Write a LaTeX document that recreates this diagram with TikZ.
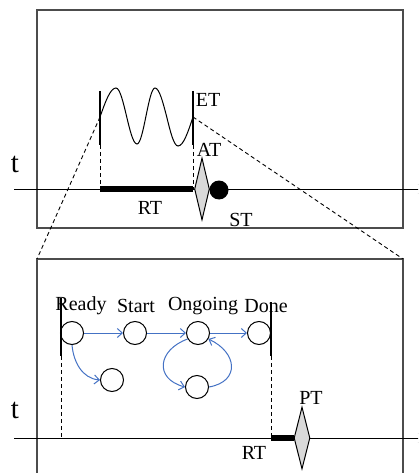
\documentclass[tikz,border=0pt]{standalone}
\usepackage{fontspec}
\setmainfont{Liberation Serif}
\usetikzlibrary{shapes.geometric,arrows.meta}
\definecolor{flowblue}{RGB}{68,114,196}
\begin{document}
\begin{tikzpicture}[x=1pt,y=-1pt,
  lbl/.style={font=\fontsize{20}{24}\selectfont, inner sep=0},
  tlbl/.style={font=\fontsize{29}{34}\selectfont, inner sep=0},
  framebox/.style={draw=black!70, line width=1.3pt},
  axis/.style={line width=1pt, -{Straight Barb[length=5pt,width=10pt]}},
  state/.style={circle, draw, line width=1pt, minimum size=23pt, inner sep=0},
  flow/.style={draw=flowblue, line width=1pt, -{Straight Barb[length=5pt,width=9pt]}},
  guide/.style={dash pattern=on 4pt off 3pt, line width=0.9pt},
  marker/.style={line width=2.2pt},
  span/.style={line width=5.5pt},
  gem/.style={diamond, draw, fill=black!15, line width=1pt, inner sep=0, minimum width=15pt, minimum height=62pt},
]
\useasboundingbox (0,0) rectangle (418,473);
\clip (0,0) rectangle (418,473);

% ---------- top panel ----------
\draw[framebox] (37,10) rectangle (403,228);
\node[tlbl] (t1) at (15,164) {t};
\coordinate (ax1s) at (14,189);
\coordinate (ax1e) at (424,189);
\draw[axis] (ax1s) -- (ax1e);

\coordinate (w1t) at (100,91);
\coordinate (w1b) at (100,145);
\coordinate (w2t) at (193,91);
\coordinate (w2b) at (193,145);
\coordinate (wa) at (100,117);
\coordinate (wb) at (193,117);
\coordinate (r1) at (100,189);
\coordinate (r2) at (193,189);

\draw[marker] (w1t) -- (w1b);
\draw[marker] (w2t) -- (w2b);
\draw[line width=1pt] (wa) sin (116,88) cos (126.5,116) sin (137,144) cos (146,116)
   sin (155,88) cos (166.5,116) sin (178,146) cos (wb);
\draw[guide] (w1b) -- (r1);
\draw[guide] (w2b) -- (r2);
\draw[span] (r1) -- (r2);
\node[gem] (at) at (202,189) {};
\node[circle, fill=black, minimum size=19pt, inner sep=0] (st) at (219,190) {};

\node[lbl] (et) at (208,100) {ET};
\node[lbl] (atl) at (209,150) {AT};
\node[lbl] (rt1) at (150,208) {RT};
\node[lbl] (stl) at (241,220) {ST};

% ---------- bottom panel ----------
\coordinate (bl) at (37,259);
\coordinate (br) at (403,259);
\draw[framebox] (bl) rectangle (403,490);
\draw[guide] (wa) -- (bl);
\draw[guide] (wb) -- (br);

\node[tlbl] (t2) at (15,410) {t};
\coordinate (ax2s) at (14,438);
\coordinate (ax2e) at (424,438);
\draw[axis] (ax2s) -- (ax2e);

\coordinate (rdt) at (61,298);
\coordinate (rdb) at (61,356);
\coordinate (rda) at (61,438);
\coordinate (dnt) at (271,302);
\coordinate (dnb) at (271,356);
\coordinate (dna) at (271,438);
\coordinate (pte) at (294,438);

\draw[marker] (rdt) -- (rdb);
\draw[marker] (dnt) -- (dnb);
\draw[guide] (rdb) -- (rda);
\draw[guide] (dnb) -- (dna);
\draw[span] (dna) -- (pte);
\node[gem, minimum width=16pt] (pt) at (302,438) {};

\node[state] (s1) at (72,333) {};
\node[state] (s2) at (135,333) {};
\node[state] (s3) at (198,333) {};
\node[state] (s4) at (259,333) {};
\node[state] (s5) at (112,380) {};
\node[state] (s6) at (197,387) {};

\node[lbl] (ready) at (81,306) {Ready};
\node[lbl] (start) at (136,306) {Start};
\node[lbl] (ongo) at (203,306) {Ongoing};
\node[lbl] (done) at (266,306) {Done};
\node[lbl] (ptl) at (311,398) {PT};
\node[lbl] (rt2) at (254,453) {RT};

\draw[flow] (s1) -- (s2);
\draw[flow] (s2) -- (s3);
\draw[flow] (s3) -- (s4);
\draw[flow] (s1.south) to[out=-85,in=175] (s5.west);
\draw[flow] (s3.-150) to[out=200,in=165,looseness=1.7] (s6.west);
\draw[flow] (s6.east) to[out=10,in=-25,looseness=1.7] (s3.-30);
\end{tikzpicture}
\end{document}
